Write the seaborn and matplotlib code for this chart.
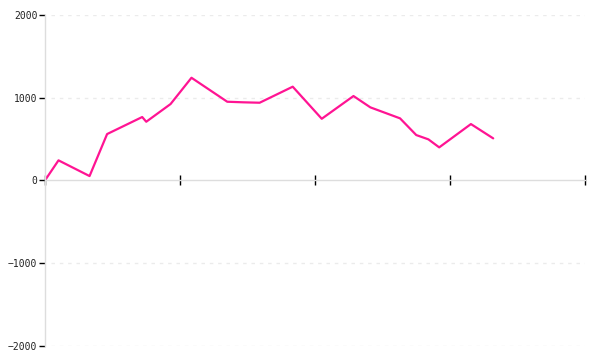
import matplotlib
matplotlib.use("Agg")
import matplotlib.pyplot as plt
import seaborn as sns
import pandas as pd

x_values = [0, 10, 33, 46, 72, 75, 93, 108.5, 135, 147, 159, 183.5, 205, 228.5, 241, 263, 275, 284, 292, 315.5, 332]
y_values = [0, 242, 52, 560, 766, 709, 923, 1241, 951, 944, 939, 1133, 745, 1020, 883, 750, 548, 496, 399, 681, 508]
y_ticks = [-2000, -1000, 0, 1000, 2000]
x_ticks = [0, 100, 200, 300, 400]

sns.set_style("white")
plt.rcParams['font.family'] = ['DejaVu Sans Mono', 'DejaVu Sans']

df = pd.DataFrame({"x": x_values, "y": y_values})

fig = plt.figure(figsize=(6, 3.6), dpi=100)
ax = fig.add_axes([0.075, 0.0397, 0.9, 0.9186])

for yv in y_ticks:
    if yv != 0:
        ax.axhline(yv, color="#ebebeb", lw=1, ls=(0, (2.5, 3.5)), zorder=0, xmin=0.012)

sns.lineplot(data=df, x="x", y="y", ax=ax, color="#ff1493", lw=1.6, sort=False)

ax.set_xlim(0, 400)
ax.set_ylim(-2000, 2000)
ax.set_xticks(x_ticks)
ax.set_xticklabels([])
ax.set_yticks(y_ticks)
ax.set_yticklabels([str(v).replace("-", "\u2212") for v in y_ticks])
ax.set_xlabel("")
ax.set_ylabel("")

for s in ["top", "right"]:
    ax.spines[s].set_visible(False)
ax.spines["left"].set_color("#dddddd")
ax.spines["bottom"].set_color("#dddddd")
ax.spines["bottom"].set_position(("data", 0))
ax.spines["left"].set_linewidth(1)
ax.spines["bottom"].set_linewidth(1)

ax.tick_params(axis="x", bottom=True, direction="inout", length=7, width=1, color="black")
ax.tick_params(axis="y", left=True, direction="out", length=4.5, width=1, color="black", labelsize=7, pad=1, labelcolor="#222222")

fig.savefig("out.png", dpi=100, facecolor="white")
